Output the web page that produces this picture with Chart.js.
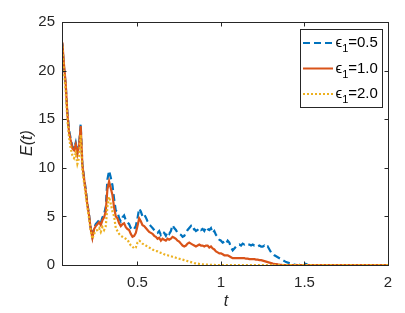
<!DOCTYPE html>
<html>
<head>
<meta charset="utf-8">
<script src="https://cdn.jsdelivr.net/npm/chart.js@4"></script>
<style>
html,body{margin:0;padding:0;background:#fff;}
#wrap{width:405px;height:313px;}
</style>
</head>
<body>
<div id="wrap"><canvas id="c" width="405" height="313"></canvas></div>
<script>
const t = [0.05,0.06,0.07,0.08,0.09,
0.10,0.11,0.12,0.13,0.14,0.15,0.16,0.17,0.18,0.19,
0.20,0.21,0.22,0.23,0.24,0.25,0.26,0.27,0.28,0.29,
0.30,0.31,0.32,0.33,0.34,0.35,0.36,0.37,0.38,0.39,
0.40,0.41,0.42,0.43,0.44,0.45,0.46,0.47,0.48,0.49,
0.50,0.51,0.52,0.53,0.54,0.55,0.56,0.57,0.58,0.59,
0.60,0.61,0.62,0.63,0.64,0.65,0.66,0.67,0.68,0.69,
0.70,0.71,0.72,0.73,0.74,0.75,0.76,0.77,0.78,0.79,
0.80,0.81,0.82,0.83,0.84,0.85,0.86,0.87,0.88,0.89,
0.90,0.91,0.92,0.93,0.94,0.95,0.96,0.97,0.98,0.99,
1.00,1.01,1.02,1.03,1.04,1.05,1.06,1.07,1.08,1.09,
1.10,1.11,1.12,1.13,1.14,1.15,1.16,1.17,1.18,1.19,
1.20,1.21,1.22,1.23,1.24,1.25,1.26,1.27,1.28,1.29,
1.30,1.31,1.32,1.33,1.34,1.35,1.36,1.37,1.38,1.39,
1.40,1.41,1.42,1.43,1.44,1.45,1.46,1.47,1.48,1.49,
1.50,1.51,1.52,1.53,1.54,1.55,1.56,1.57,1.58,1.59,
1.60,1.70,1.80,1.90,2.00];

const eps05 = [22.8,20.3,18.6,15.8,13.9,
13.0,12.2,12.0,12.6,11.6,12.4,14.5,10.4,9.0,7.8,
6.3,5.2,3.8,2.9,3.8,4.2,4.4,4.6,4.3,4.9,
5.2,6.0,8.8,9.7,9.0,8.2,6.8,5.6,5.5,4.8,
4.5,4.9,5.1,4.6,4.4,4.2,3.8,3.6,3.7,4.0,
4.8,5.8,5.5,5.0,5.2,4.9,4.5,4.2,4.0,3.8,
3.6,3.4,3.3,3.5,3.1,3.4,3.3,3.0,3.4,3.2,
3.5,4.1,3.8,3.6,3.3,3.2,3.1,2.9,3.0,3.3,
3.6,3.8,4.0,3.6,3.7,3.5,3.6,3.8,3.6,3.7,
3.5,3.9,3.7,3.6,3.8,3.3,3.5,3.1,2.9,2.6,
2.5,2.3,2.4,2.2,2.5,2.3,1.8,1.5,1.7,1.9,
2.0,2.1,2.0,2.2,2.1,2.2,2.1,2.1,2.0,2.1,
2.0,2.0,1.9,2.0,1.9,1.9,2.0,1.8,1.9,1.6,
1.3,1.2,1.0,0.9,0.8,0.7,0.6,0.5,0.4,0.3,
0.25,0.2,0.15,0.1,0.05,0.02,0,0,0.1,0.15,
0.15,0.1,0,0,0,0,0,0,0,0,
0,0,0,0,0];

const eps10 = [22.9,20.6,18.7,15.6,13.7,
12.8,12.0,11.8,12.4,11.4,12.2,14.3,10.3,8.9,7.6,
6.2,5.1,3.7,2.8,3.7,4.0,4.2,4.4,4.1,4.6,
4.9,5.5,7.8,8.6,7.9,7.2,5.9,5.0,4.8,4.3,
4.0,4.2,4.3,3.9,3.7,3.6,3.2,2.9,3.0,3.3,
4.0,4.8,4.5,4.1,4.0,3.8,3.6,3.4,3.3,3.2,
3.0,2.9,2.7,2.8,2.5,2.7,2.6,2.5,2.7,2.6,
2.7,2.9,2.8,2.7,2.5,2.4,2.2,2.0,1.9,2.0,
2.2,2.3,2.2,2.1,2.0,1.9,2.0,2.1,2.0,2.0,
1.9,2.0,2.0,1.8,1.9,1.7,1.6,1.4,1.3,1.2,
1.2,1.1,1.0,1.0,1.0,0.9,0.8,0.7,0.7,0.7,
0.7,0.7,0.7,0.7,0.7,0.65,0.65,0.6,0.6,0.6,
0.6,0.55,0.55,0.5,0.5,0.45,0.4,0.35,0.3,0.25,
0.2,0.15,0.12,0.1,0.06,0.03,0.02,0,0,0,
0,0,0,0,0,0,0,0,0,0,
0,0,0,0,0,0,0,0,0,0,
0,0,0,0,0];

const eps20 = [22.5,19.8,18.0,15.0,13.2,
12.0,11.3,11.0,11.5,10.4,11.0,13.4,9.7,8.5,7.2,
5.9,4.8,3.5,2.7,3.2,3.5,3.6,3.8,3.4,3.9,
3.6,4.0,6.0,7.0,6.3,5.5,5.0,3.8,3.5,3.2,
3.0,2.9,2.8,2.7,2.6,2.3,2.0,1.9,1.7,1.8,
2.3,2.5,2.4,2.2,2.1,2.0,1.9,1.8,1.7,1.6,
1.5,1.45,1.4,1.3,1.25,1.2,1.1,1.05,1.0,0.95,
0.9,0.85,0.8,0.75,0.7,0.65,0.6,0.55,0.5,0.45,
0.4,0.35,0.3,0.25,0.2,0.17,0.14,0.11,0.09,0.07,
0.05,0.04,0.03,0.02,0.02,0.01,0.01,0,0,0,
0,0,0,0,0,0,0,0,0,0,
0,0,0,0,0,0,0,0,0,0,
0,0,0,0,0,0,0,0,0,0,
0,0,0,0,0,0,0,0,0,0,
0,0,0,0,0,0,0,0,0,0,
0,0,0,0,0,0,0,0,0,0,
0,0,0,0,0];

const xTicks = [0.5, 1, 1.5, 2];
const yTicks = [0, 5, 10, 15, 20, 25];
const legendLabels = ['0.5', '1.0', '2.0'];

const BLUE = '#0072BD', ORANGE = '#D95319', YELLOW = '#EDB120';
const AXC = '#262626';
const FONT = "'Liberation Sans', Arial, Helvetica, sans-serif";

function pts(arr){ return t.map((x,i)=>({x:x, y:arr[i]})); }

const styles = [
  {color: BLUE, dash: [7,4], order: 3},
  {color: ORANGE, dash: [], order: 2},
  {color: YELLOW, dash: [2,2], order: 1}
];
const series = [eps05, eps10, eps20];

const decor = {
  id: 'decor',
  afterDraw(chart){
    const ctx = chart.ctx, a = chart.chartArea;
    const xs = chart.scales.x, ys = chart.scales.y;
    ctx.save();
    ctx.strokeStyle = AXC; ctx.lineWidth = 1;
    const L = Math.round(a.left)+0.5, R = Math.round(a.right)+0.5, T = Math.round(a.top)+0.5, B = Math.round(a.bottom)+0.5;
    ctx.strokeRect(L, T, R-L, B-T);
    const tl = 4;
    ctx.beginPath();
    xTicks.forEach(v=>{
      const px = Math.round(xs.getPixelForValue(v))+0.5;
      ctx.moveTo(px, B); ctx.lineTo(px, B-tl);
      ctx.moveTo(px, T); ctx.lineTo(px, T+tl);
    });
    yTicks.forEach(v=>{
      const py = Math.round(ys.getPixelForValue(v))+0.5;
      ctx.moveTo(L, py); ctx.lineTo(L+tl, py);
      ctx.moveTo(R, py); ctx.lineTo(R-tl, py);
    });
    ctx.stroke();
    ctx.fillStyle = AXC;
    ctx.font = "italic 16px " + FONT;
    ctx.textAlign = 'center'; ctx.textBaseline = 'middle';
    ctx.fillText('t', (a.left+a.right)/2 + 1, 302);
    ctx.save();
    ctx.translate(28, 143);
    ctx.rotate(-Math.PI/2);
    ctx.fillText('E(t)', 0, 0);
    ctx.restore();
    const bx = 300.5, by = 29.5, bw = 82, bh = 78;
    ctx.fillStyle = '#fff';
    ctx.fillRect(bx, by, bw, bh);
    ctx.strokeStyle = AXC; ctx.lineWidth = 1;
    ctx.strokeRect(bx, by, bw, bh);
    const baselines = [47, 72.5, 98];
    styles.forEach((s, i)=>{
      const yl = baselines[i] - 4;
      ctx.beginPath();
      ctx.strokeStyle = s.color; ctx.lineWidth = 2;
      ctx.setLineDash(s.dash);
      ctx.moveTo(303, yl); ctx.lineTo(333, yl);
      ctx.stroke();
      ctx.setLineDash([]);
      ctx.fillStyle = '#000';
      ctx.textAlign = 'left'; ctx.textBaseline = 'alphabetic';
      ctx.font = "15px " + FONT;
      ctx.fillText('\u03F5', 335.5, baselines[i]);
      const ew = ctx.measureText('\u03F5').width;
      ctx.font = "11px " + FONT;
      ctx.fillText('1', 335.5 + ew, baselines[i] + 5);
      const sw = ctx.measureText('1').width;
      ctx.font = "15px " + FONT;
      ctx.fillText('=' + legendLabels[i], 335.5 + ew + sw, baselines[i]);
    });
    ctx.restore();
  }
};

new Chart(document.getElementById('c'), {
  type: 'line',
  data: {
    datasets: series.map((arr, i)=>({
      label: 'eps1=' + legendLabels[i],
      data: pts(arr),
      borderColor: styles[i].color,
      borderDash: styles[i].dash,
      borderWidth: 2.2,
      pointRadius: 0,
      tension: 0,
      fill: false,
      order: styles[i].order
    }))
  },
  options: {
    responsive: false,
    devicePixelRatio: 1,
    animation: false,
    layout: { padding: { top: 22, right: 17, left: 0, bottom: 0 } },
    plugins: { legend: { display: false }, tooltip: { enabled: false } },
    scales: {
      x: {
        type: 'linear', min: 0.048, max: 2,
        grid: { display: false, drawTicks: false },
        border: { display: false },
        ticks: { color: AXC, font: { family: FONT, size: 15 }, padding: 9, maxRotation: 0,
                 callback: v => String(v) },
        afterBuildTicks: s => { s.ticks = xTicks.map(v=>({value:v})); },
        afterFit: s => { s.height = 48; }
      },
      y: {
        type: 'linear', min: 0, max: 25,
        grid: { display: false, drawTicks: false },
        border: { display: false },
        ticks: { color: AXC, font: { family: FONT, size: 15 }, padding: 7,
                 callback: v => String(v) },
        afterBuildTicks: s => { s.ticks = yTicks.map(v=>({value:v})); },
        afterFit: s => { s.width = 62; }
      }
    }
  },
  plugins: [decor]
});
</script>
</body>
</html>
